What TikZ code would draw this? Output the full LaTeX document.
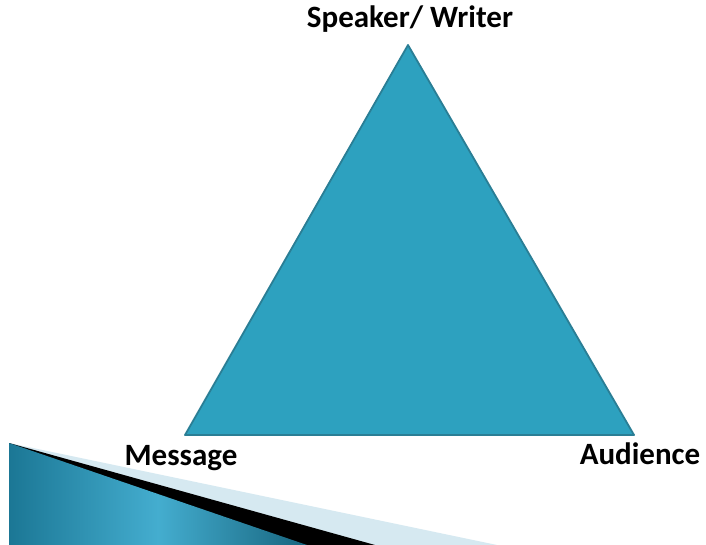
\documentclass[tikz,border=0pt]{standalone}
\usepackage{fontspec}
\setmainfont{Carlito}
\definecolor{trifill}{HTML}{2DA1BF}
\definecolor{triedge}{HTML}{2A7E95}
\definecolor{wedgedark}{HTML}{1B7795}
\definecolor{wedgelight}{HTML}{44ADCF}
\definecolor{stripe}{HTML}{D6E9F1}
\tikzset{
  lbl/.style={font=\fontsize{31}{34}\selectfont\bfseries, inner sep=0pt, anchor=base},
  tri/.style={fill=trifill, draw=triedge, line width=1.8pt, line join=round}
}
\begin{document}
\begin{tikzpicture}[x=1pt,y=-1pt]
\useasboundingbox (0,0) rectangle (706,545);
\fill[white] (0,0) rectangle (706,545);
% decorative wedge at bottom-left
\fill[stripe] (9,443) -- (497,545) -- (9,545) -- cycle;
\fill[black] (9,443) -- (375,545) -- (9,545) -- cycle;
\shade[left color=wedgedark, right color=wedgedark!85!black, middle color=wedgelight]
  (9,443) -- (307,545) -- (9,545) -- cycle;
% triangle
\coordinate (top) at (408,45);
\coordinate (bl) at (185,435);
\coordinate (br) at (634,435);
\path[tri] (top) -- (br) -- (bl) -- cycle;
% labels
\node[lbl] (sw) at (410,28) {Speaker/ Writer};
\node[lbl] (msg) at (181,465) {Message};
\node[lbl] (aud) at (640,464) {Audience};
\end{tikzpicture}
\end{document}
